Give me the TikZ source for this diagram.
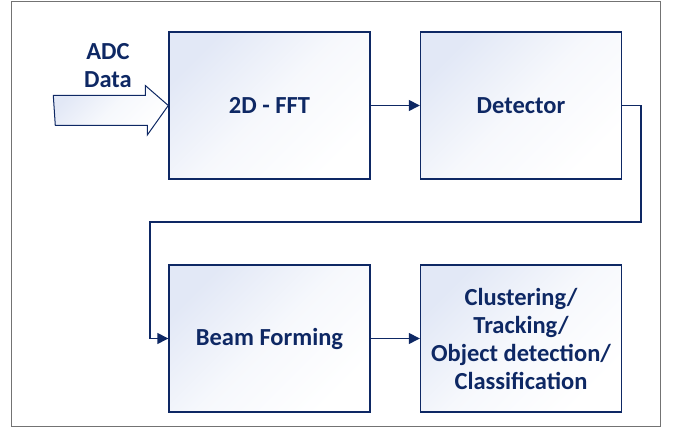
\documentclass[tikz,border=0pt]{standalone}
\usepackage{fontspec}
\setmainfont{Carlito}[BoldFont=Carlito Bold]
\usepackage{tikz}
\usetikzlibrary{arrows.meta}
\usetikzlibrary{calc}
\definecolor{navy}{RGB}{14,40,100}
\definecolor{boxfill}{RGB}{226,232,246}

\begin{document}
\begin{tikzpicture}[x=1pt,y=-1pt,
    block/.style={draw=navy,line width=1.4pt,top color=boxfill,bottom color=white,middle color=boxfill!30!white,shading angle=45,
        minimum width=201pt,minimum height=147pt,text=navy,align=center,
        font=\fontsize{24.5}{28}\selectfont\bfseries},
    flow/.style={draw=navy,line width=1.4pt,-{Triangle[length=11pt,width=11pt]}}]
            \useasboundingbox (0,0) rectangle (673,430);
            \draw[gray!90!black,line width=1pt] (11,2) rectangle (660,427);
            \node[block] (fft) at (269.5,105.5) {2D - FFT};
            \node[block] (det) at (521,105.5) {Detector};
            \node[block] (beam) at (269.5,338.5) {Beam Forming};
            \node[block] (clust) at (521,338.5) {Clustering/\\Tracking/\\Object detection/\\Classification};
            \node[text=navy,align=center,font=\fontsize{24.5}{28}\selectfont\bfseries] (adc) at (108,66) {ADC\\Data};
            \coordinate (r) at (641,222);
            \coordinate (l) at (150,222);
            % block arrow into the FFT
            \draw[navy,line width=1pt,top color=boxfill,bottom color=white,middle color=boxfill!30!white,shading angle=45]
                ($(fft.west)+(-115,-10)$) -- ++(92,0) -- ++(0,-10) -- (fft.west) -- ++(-21,29.5) -- ++(0,-9.5) -- ++(-92,0) -- cycle;
            \draw[flow] (fft) -- (det);
            \draw[flow] (det.east) -| (r) -- (l) |- (beam.west);
            \draw[flow] (beam) -- (clust);
        \end{tikzpicture}
\end{document}
